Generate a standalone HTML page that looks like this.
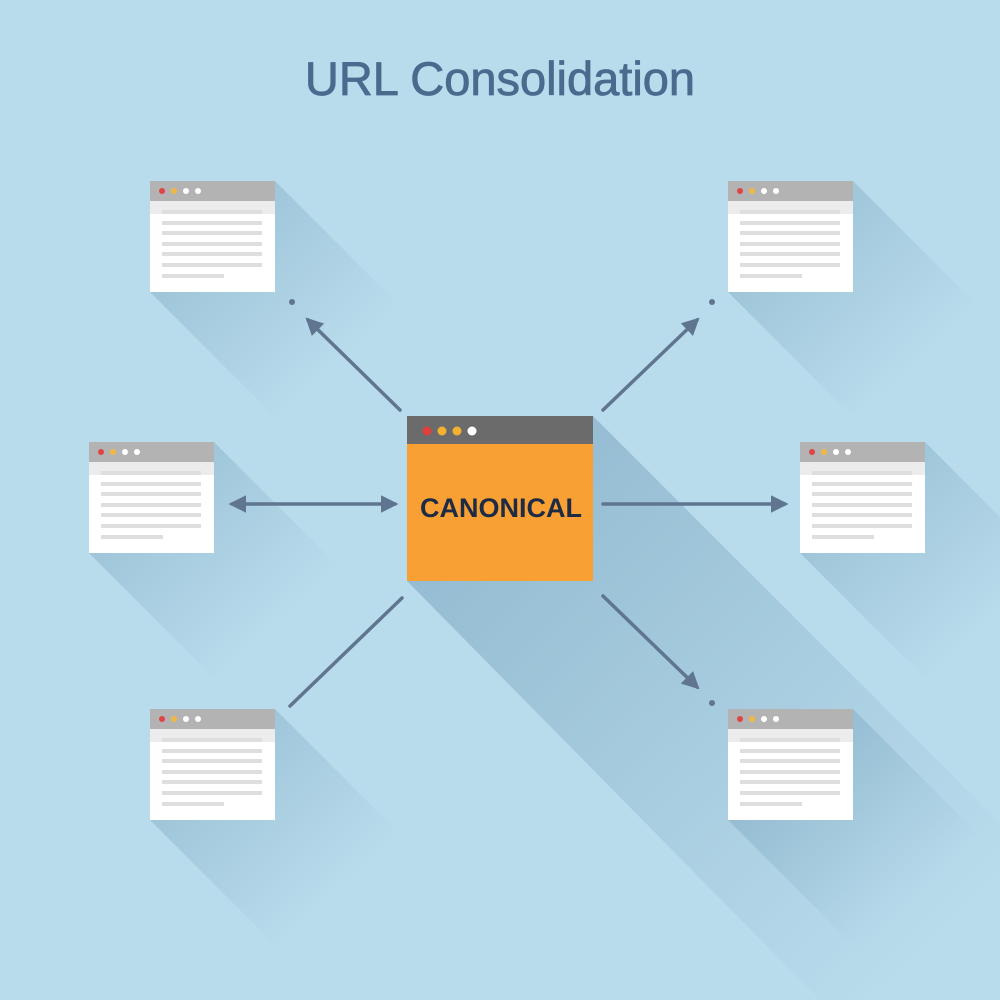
<!DOCTYPE html>
<html><head><meta charset="utf-8"><style>
html,body{margin:0;padding:0;width:1000px;height:1000px;overflow:hidden;background:#b9dcec}
</style></head><body>
<svg width="1000" height="1000" viewBox="0 0 1000 1000" xmlns="http://www.w3.org/2000/svg">
<defs>
<linearGradient id="sh" x1="0" y1="0" x2="1" y2="1">
<stop offset="0" stop-color="#5a88a8" stop-opacity="0.4"/>
<stop offset="0.75" stop-color="#5a88a8" stop-opacity="0"/>
</linearGradient>
<linearGradient id="shc" x1="0" y1="0" x2="1" y2="1">
<stop offset="0" stop-color="#5a88a8" stop-opacity="0.45"/>
<stop offset="0.9" stop-color="#5a88a8" stop-opacity="0"/>
</linearGradient>
<g id="win">
<polygon points="125,0 255,130 255,241 130,241 0,111 125,111" fill="url(#sh)"/>
<rect x="0" y="0" width="125" height="111" fill="#ffffff"/>
<rect x="0" y="0" width="125" height="20" fill="#b3b3b3"/>
<rect x="0" y="20" width="125" height="13" fill="#ececec"/>
<circle cx="12" cy="10" r="3" fill="#e04545"/>
<circle cx="24" cy="10" r="3" fill="#f0b840"/>
<circle cx="36" cy="10" r="3" fill="#fff"/>
<circle cx="48" cy="10" r="3" fill="#fff"/>
<g fill="#dedede">
<rect x="12" y="29" width="100" height="4"/>
<rect x="12" y="40" width="100" height="4"/>
<rect x="12" y="50" width="100" height="4"/>
<rect x="12" y="61" width="100" height="4"/>
<rect x="12" y="71" width="100" height="4"/>
<rect x="12" y="82" width="100" height="4"/>
<rect x="12" y="93" width="62" height="4"/>
</g>
</g>
<marker id="ah" viewBox="0 0 10 10" refX="8" refY="5" markerWidth="5" markerHeight="5" orient="auto-start-reverse">
<path d="M0,0 L10,5 L0,10 z" fill="#5f7590"/>
</marker>
</defs>

<text x="500" y="95" text-anchor="middle" font-family="Liberation Sans, sans-serif" font-size="47" fill="#4a6a8e" stroke="#4a6a8e" stroke-width="0.8">URL Consolidation</text>

<!-- central shadow -->
<polygon points="593,416 1000,823 1000,1000 820,1000 407,581 593,581" fill="url(#shc)"/>

<use href="#win" x="150" y="181"/>
<use href="#win" x="728" y="181"/>
<use href="#win" x="89" y="442"/>
<use href="#win" x="800" y="442"/>
<use href="#win" x="150" y="709"/>
<use href="#win" x="728" y="709"/>

<!-- arrows -->
<g stroke="#5f7590" stroke-width="3.5" fill="none" stroke-linecap="round">
<line x1="400" y1="410" x2="308" y2="320" marker-end="url(#ah)"/>
<line x1="603" y1="410" x2="697" y2="320" marker-end="url(#ah)"/>
<line x1="232" y1="504" x2="395" y2="504" marker-start="url(#ah)" marker-end="url(#ah)"/>
<line x1="603" y1="504" x2="785" y2="504" marker-end="url(#ah)"/>
<line x1="402" y1="598" x2="290" y2="706"/>
<line x1="603" y1="596" x2="697" y2="687" marker-end="url(#ah)"/>
</g>
<g fill="#5f7590">
<circle cx="292" cy="302" r="3"/>
<circle cx="712" cy="302" r="3"/>
<circle cx="712" cy="703" r="3"/>
</g>

<!-- central window -->
<rect x="407" y="416" width="186" height="165" fill="#f8a033"/>
<rect x="407" y="416" width="186" height="28" fill="#6b6b6b"/>
<circle cx="427" cy="431" r="4.5" fill="#e0403c"/>
<circle cx="442" cy="431" r="4.5" fill="#f4b030"/>
<circle cx="457" cy="431" r="4.5" fill="#f4b030"/>
<circle cx="472" cy="431" r="4.5" fill="#ffffff"/>
<text x="501" y="517" text-anchor="middle" font-family="Liberation Sans, sans-serif" font-size="27" font-weight="bold" fill="#1d2b45">CANONICAL</text>
</svg>
</body></html>
